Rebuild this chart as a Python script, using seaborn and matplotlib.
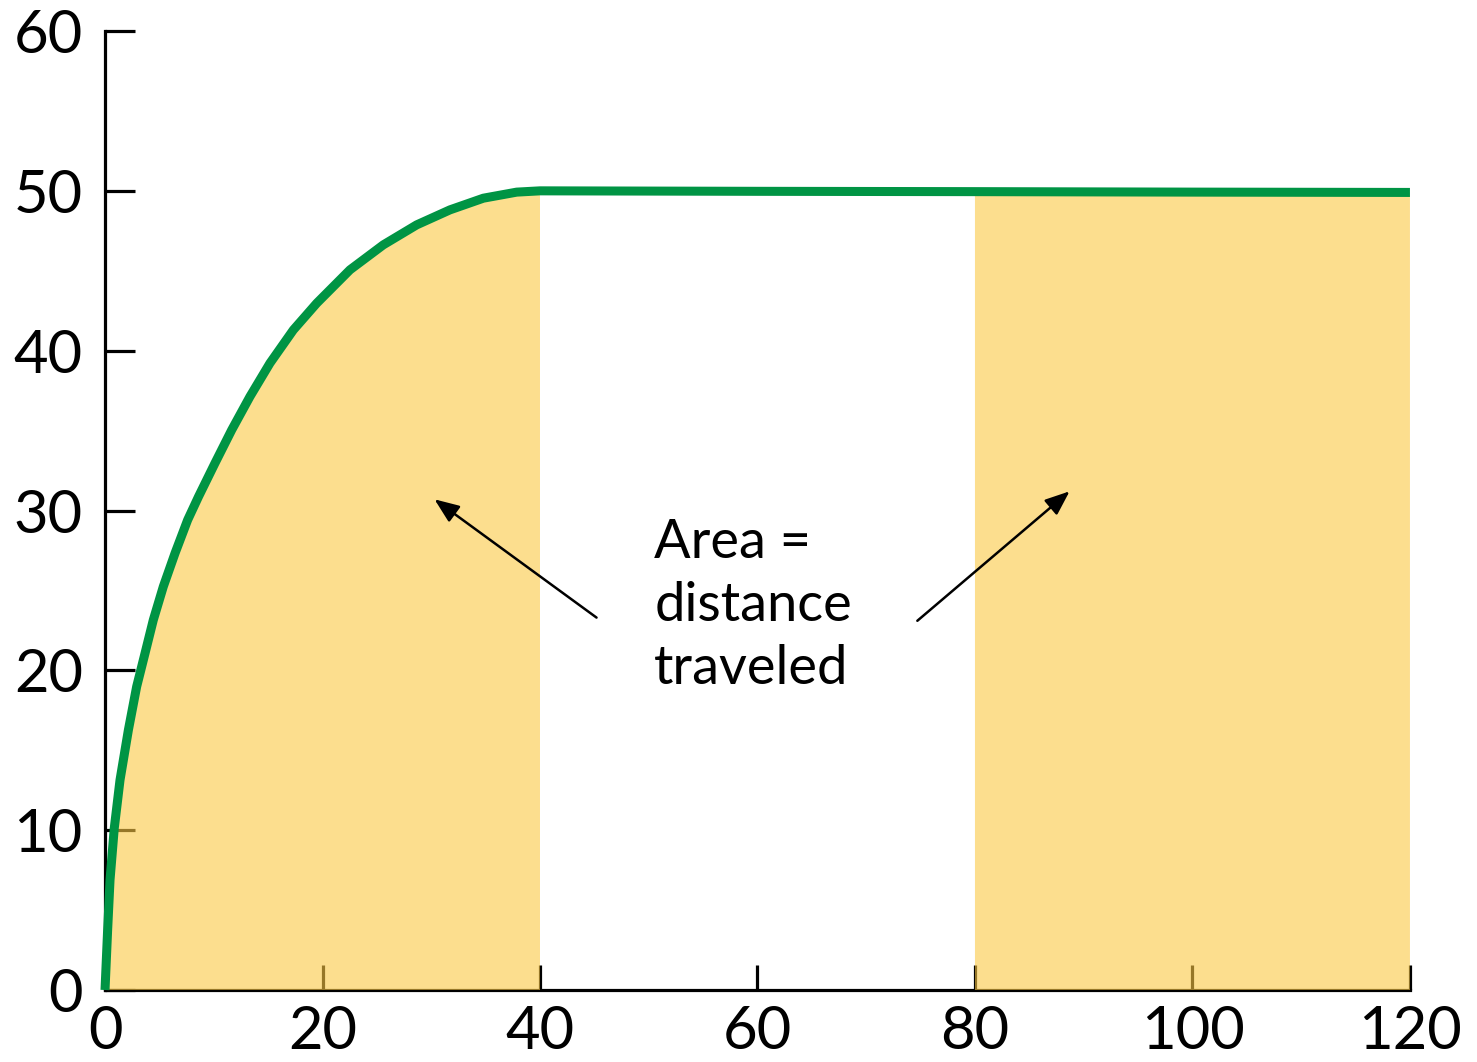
import numpy as np
import pandas as pd
import matplotlib
matplotlib.use('Agg')
import matplotlib.pyplot as plt
import seaborn as sns

# valores (tiempo vs velocidad)
tiempo = [0.0, 0.24, 0.46, 0.85, 1.38, 2.15, 2.91, 3.68, 4.44, 5.36, 6.44, 7.6,
          8.6, 10.11, 11.65, 13.33, 15.17, 17.32, 19.47, 22.53, 25.59, 28.66,
          31.72, 34.79, 37.86, 40.0, 60.0, 80.0, 100.0, 120.0]
velocidad = [0.0, 3.75, 6.88, 10.12, 13.14, 16.27, 18.98, 21.07, 23.15, 25.24, 27.33, 29.41,
             30.87, 32.96, 35.04, 37.13, 39.22, 41.3, 42.97, 45.06, 46.62, 47.87,
             48.81, 49.54, 49.92, 50.0, 49.97, 49.95, 49.92, 49.9]
x_ticks = [0, 20, 40, 60, 80, 100, 120]
y_ticks = [0, 10, 20, 30, 40, 50, 60]
texto = "Area =\ndistance\ntraveled"

df = pd.DataFrame({"t": tiempo, "v": velocidad})

sns.set_style("ticks")
plt.rcParams['font.family'] = ['Lato', 'DejaVu Sans']
plt.rcParams['text.color'] = 'black'

fig = plt.figure(figsize=(14.77, 10.62), dpi=100)
ax = fig.add_axes([0.0711, 0.0678, 0.9546 - 0.0711, 0.9708 - 0.0678])

verde = "#009444"
amarillo = "#FBC843"

# area sombreada (0-40 y 80-120)
mask = (df["t"] <= 40) | (df["t"] >= 80)
ax.fill_between(df["t"], 0, df["v"], where=mask, color=amarillo, alpha=0.6,
                linewidth=0, zorder=3)

sns.lineplot(data=df, x="t", y="v", color=verde, linewidth=6.5, ax=ax,
             zorder=4, clip_on=False, sort=False, solid_capstyle="butt",
             solid_joinstyle="round")

ax.set_xlim(0, 120)
ax.set_ylim(0, 60)
ax.set_xticks(x_ticks)
ax.set_yticks(y_ticks)
ax.set_xlabel("")
ax.set_ylabel("")

for s in ["top", "right"]:
    ax.spines[s].set_visible(False)
for s in ["left", "bottom"]:
    ax.spines[s].set_linewidth(2.3)
    ax.spines[s].set_color("black")

ax.tick_params(axis="y", direction="in", length=21.6, width=2.3, pad=16,
               labelsize=43, colors="black")
ax.tick_params(axis="x", direction="in", length=18, width=2.3, pad=11,
               labelsize=43, colors="black")

# flechas
estilo = "-|>,head_length=0.5,head_width=0.2"
ax.annotate("", xy=(30.3, 30.7), xytext=(45.2, 23.3),
            arrowprops=dict(arrowstyle=estilo, color="black", lw=1.8,
                            mutation_scale=30, shrinkA=0, shrinkB=0), zorder=5)
ax.annotate("", xy=(88.7, 31.2), xytext=(74.7, 23.1),
            arrowprops=dict(arrowstyle=estilo, color="black", lw=1.8,
                            mutation_scale=30, shrinkA=0, shrinkB=0), zorder=5)

ax.text(50.5, 29.54, texto, fontsize=39, ha="left", va="top", color="black",
        linespacing=1.35, zorder=5)

plt.savefig("out.png", dpi=100)
plt.close()
